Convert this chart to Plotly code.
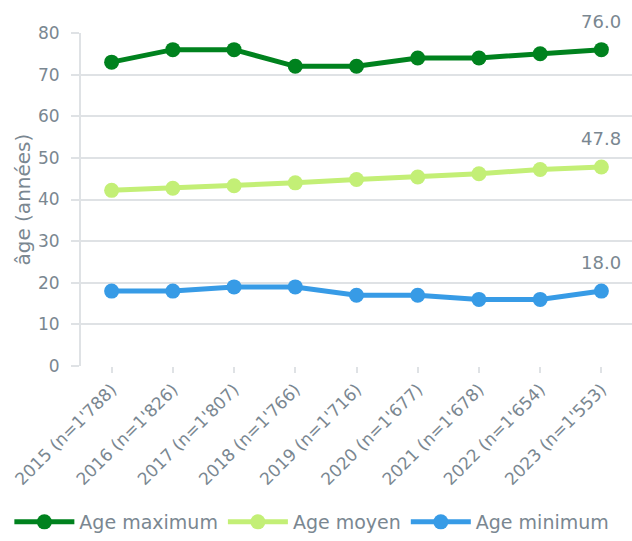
import plotly.graph_objects as go

categories = ["2015 (n=1'788)", "2016 (n=1'826)", "2017 (n=1'807)", "2018 (n=1'766)",
              "2019 (n=1'716)", "2020 (n=1'677)", "2021 (n=1'678)", "2022 (n=1'654)",
              "2023 (n=1'553)"]
age_max = [73, 76, 76, 72, 72, 74, 74, 75, 76]
age_moyen = [42.2, 42.7, 43.3, 44.0, 44.8, 45.4, 46.2, 47.2, 47.8]
age_min = [18, 18, 19, 19, 17, 17, 16, 16, 18]
y_ticks = [0, 10, 20, 30, 40, 50, 60, 70, 80]

series = [
    ("Age maximum", age_max, "#00821e"),
    ("Age moyen", age_moyen, "#c3ef76"),
    ("Age minimum", age_min, "#379be6"),
]

TXT = "#7a8791"
GRID = "#dfe2e5"
FONT = "DejaVu Sans"

fig = go.Figure()
annotations = []
for name, vals, col in series:
    fig.add_trace(go.Scatter(
        x=categories, y=vals, name=name, mode="lines+markers",
        line=dict(color=col, width=5),
        marker=dict(color=col, size=15),
        cliponaxis=False,
    ))
    annotations.append(dict(
        x=categories[-1], y=vals[-1], xref="x", yref="y",
        text=f"{vals[-1]:.1f}", showarrow=False, yanchor="bottom", yshift=16,
        font=dict(size=18, color=TXT, family=FONT),
    ))

annotations.append(dict(text="âge (années)", xref="paper", yref="paper",
                        x=-0.107, y=0.5, xanchor="center", yanchor="middle",
                        textangle=-90, showarrow=False,
                        font=dict(size=20, color=TXT, family=FONT)))

fig.update_layout(
    width=632, height=541,
    margin=dict(l=81, r=0, t=33, b=174),
    plot_bgcolor="white", paper_bgcolor="white",
    font=dict(family=FONT, color=TXT, size=16),
    showlegend=True,
    legend=dict(orientation="h", x=-0.13, xanchor="left", y=-0.41, yanchor="top",
                font=dict(size=19, color=TXT, family=FONT), itemwidth=60,
                tracegroupgap=0),
    annotations=annotations,
)
fig.update_xaxes(
    range=[-0.5, len(categories) - 0.5],
    showgrid=False, showline=False, ticks="outside", ticklen=6, tickcolor=GRID,
    tickwidth=2, tickangle=-45, tickfont=dict(size=17, color=TXT), zeroline=False,
    automargin=False,
)
fig.update_yaxes(
    range=[0, 80], tickvals=y_ticks, showgrid=True, gridcolor=GRID, gridwidth=2,
    showline=True, linecolor=GRID, linewidth=2, ticks="outside", ticklen=8,
    tickcolor=GRID, tickwidth=2, tickfont=dict(size=17, color=TXT), zeroline=False,
    ticklabelstandoff=8, automargin=False,
)
fig.write_html(
    "out.html",
    config={"displayModeBar": False},
    post_script="document.body.style.margin='0';document.body.style.overflow='hidden';",
)
